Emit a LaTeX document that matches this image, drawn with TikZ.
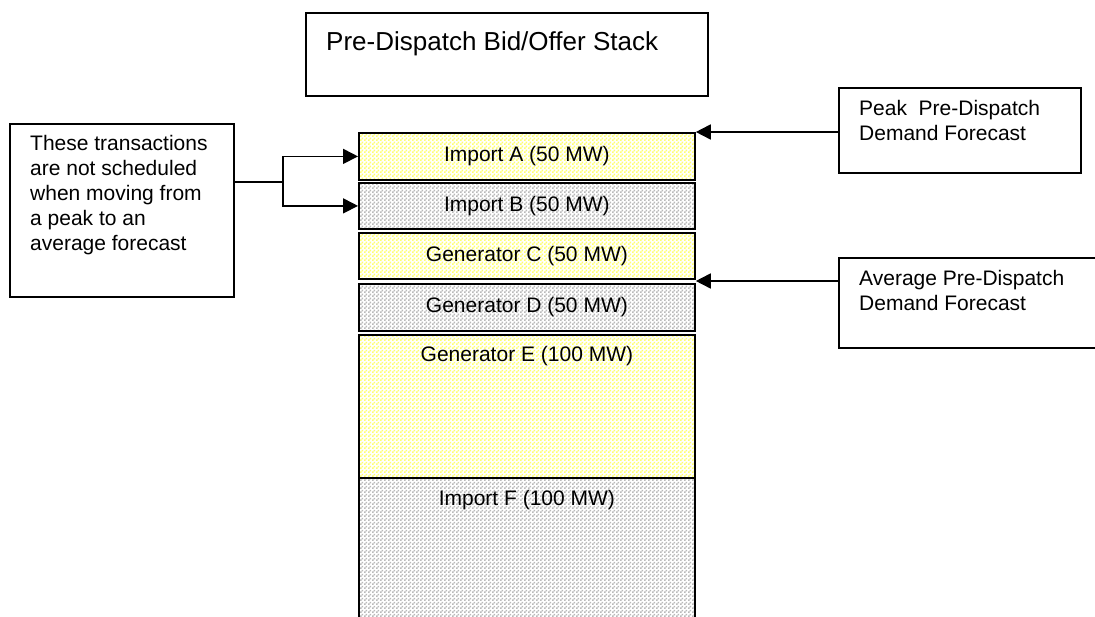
\documentclass[tikz,border=0pt]{standalone}
\usepackage{fontspec}
\setmainfont{Liberation Sans}
\usetikzlibrary{arrows.meta,patterns}
\pgfdeclarepatternformonly{finecheck}{\pgfpointorigin}{\pgfqpoint{4pt}{4pt}}{\pgfqpoint{4pt}{4pt}}{%
  \pgfpathrectangle{\pgfpointorigin}{\pgfqpoint{2pt}{2pt}}%
  \pgfpathrectangle{\pgfqpoint{2pt}{2pt}}{\pgfqpoint{2pt}{2pt}}%
  \pgfusepath{fill}}
\definecolor{chkyellow}{RGB}{255,255,110}
\definecolor{chkgray}{RGB}{185,185,185}
\begin{document}
\begin{tikzpicture}[x=1pt,y=-1pt,
  box/.style={draw=black, line width=1.8pt, anchor=north west, inner sep=0pt},
  band/.style={draw=black, line width=1.8pt, anchor=north west, inner sep=0pt,
    minimum width=336pt, font=\fontsize{21}{25}\selectfont},
  yband/.style={band, pattern=finecheck, pattern color=chkyellow},
  gband/.style={band, pattern=finecheck, pattern color=chkgray},
  lbl/.style={anchor=north west, inner sep=0pt, align=left, font=\fontsize{21}{25}\selectfont},
  toplbl/.style={anchor=north, inner sep=0pt, font=\fontsize{21}{25}\selectfont},
  conn/.style={line width=1.7pt},
  arr/.style={conn, -{Triangle[length=15pt,width=15pt]}}]
\useasboundingbox (0,0) rectangle (1095,617);
% title
\node[box, minimum width=402pt, minimum height=83pt] (title) at (305,12) {};
\node[anchor=west, inner sep=0pt, font=\fontsize{26}{30}\selectfont] (titletext) at (326,44) {Pre-Dispatch Bid/Offer Stack};
% stack
\node[yband, minimum height=47pt] (A) at (358,132) {Import A (50 MW)};
\node[gband, minimum height=46pt] (B) at (358,182) {Import B (50 MW)};
\node[yband, minimum height=46pt] (C) at (358,232) {Generator C (50 MW)};
\node[gband, minimum height=47pt] (D) at (358,283) {Generator D (50 MW)};
\node[yband, minimum height=143pt,
  label={[toplbl, yshift=-12pt]north:Generator E (100 MW)}] (E) at (358,334) {};
\node[gband, minimum height=160pt,
  label={[toplbl, yshift=-13pt]north:Import F (100 MW)}] (F) at (358,477) {};
% left note
\node[box, minimum width=224pt, minimum height=173pt,
  label={[lbl, xshift=21pt, yshift=-12pt]north west:These transactions\\are not scheduled\\when moving from\\a peak to an\\average forecast}] (note) at (9,123) {};
% right notes
\node[box, minimum width=242pt, minimum height=85pt,
  label={[lbl, xshift=21pt, yshift=-13pt]north west:Peak~ Pre-Dispatch\\Demand Forecast}] (peak) at (838,87) {};
\node[box, minimum width=280pt, minimum height=90pt,
  label={[lbl, xshift=21pt, yshift=-13pt]north west:Average Pre-Dispatch\\Demand Forecast}] (avg) at (838,257) {};
% connectors
\coordinate (j) at (283,182);
\draw[conn] (note.east |- j) -- (j);
\draw[arr] (j) |- (A.west);
\draw[arr] (j) |- (B.west);
\draw[arr] (peak.west |- A.north) -- (A.north east);
\draw[arr] (avg.west |- 0,281) -- (A.east |- 0,281);
\end{tikzpicture}
\end{document}
